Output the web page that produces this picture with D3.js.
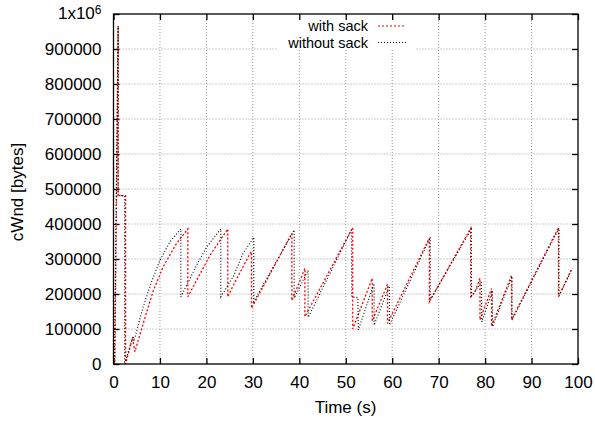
<!DOCTYPE html>
<html lang="en">
<head>
<meta charset="UTF-8">
<title>cWnd with and without SACK</title>
<script src="https://d3js.org/d3.v7.min.js"></script>
<style>
  html, body { margin: 0; padding: 0; background: #fff; }
  svg { display: block; font-family: 'Liberation Sans', Arial, sans-serif; }
  .tick text { font-size: 17px; fill: #000; }
</style>
</head>
<body>
<svg width="595" height="421"></svg>
<script>
  // [time (s), cwnd (bytes)]
  const withSack = [
    [0, 0], [0.3, 0], [1.0, 966000], [1.0, 481000], [2.6, 481000], [2.6, 0],
    [4.1, 74000], [4.6, 35000], [6.4, 116000], [8.6, 211000], [10.7, 278000], [13.6, 345000], [16.0, 386000],
    [16.0, 192000], [20.8, 311000], [24.6, 386000],
    [24.6, 192000], [25.8, 225000], [29.4, 316000], [29.7, 321000],
    [29.7, 159000], [33.0, 240000], [38.4, 373000],
    [38.4, 181000], [41.2, 273000],
    [41.2, 135000], [51.5, 390000],
    [51.5, 100000], [55.7, 245000],
    [55.7, 123000], [59.0, 228000],
    [59.0, 116000], [68.0, 360000],
    [68.0, 178000], [76.9, 388000],
    [76.9, 192000], [77.8, 205000], [78.9, 245000],
    [78.9, 126000], [81.4, 216000],
    [81.4, 107000], [85.7, 254000],
    [85.7, 126000], [95.8, 390000],
    [95.8, 192000], [98.7, 273000]
  ];

  const withoutSack = [
    [0, 0], [0.2, 0], [1.0, 966000], [1.0, 481000], [2.4, 481000], [2.4, 0],
    [4.2, 80000], [4.4, 65000], [6.4, 164000], [8.2, 235000], [10.0, 297000], [12.2, 350000], [14.5, 386000],
    [14.5, 192000], [18.0, 285000], [20.1, 335000], [23.1, 386000],
    [23.1, 192000], [25.8, 250000], [27.9, 316000], [30.2, 362000],
    [30.2, 178000], [38.9, 383000],
    [38.9, 188000], [41.9, 268000],
    [41.9, 133000], [51.2, 383000],
    [51.3, 192000], [52.6, 190000], [52.7, 97000], [56.1, 230000],
    [56.1, 111000], [59.4, 223000],
    [59.4, 111000], [68.2, 362000],
    [68.2, 183000], [77.0, 385000],
    [77.1, 195000], [78.0, 210000], [79.2, 235000],
    [79.3, 120000], [81.6, 211000],
    [81.6, 107000], [85.8, 250000],
    [85.8, 126000], [95.9, 388000],
    [95.9, 195000], [98.8, 273000]
  ];

  const xTicks = [0, 10, 20, 30, 40, 50, 60, 70, 80, 90, 100];
  const yTicks = [0, 100000, 200000, 300000, 400000, 500000, 600000, 700000, 800000, 900000, 1000000];
  const seriesNames = ["with sack", "without sack"];

  const svg = d3.select("svg");
  const margin = { top: 14, right: 17, bottom: 57, left: 113.5 };
  const width = 595 - margin.left - margin.right;
  const height = 421 - margin.top - margin.bottom;

  const g = svg.append("g").attr("transform", `translate(${margin.left},${margin.top})`);

  const x = d3.scaleLinear().domain([0, 100]).range([0, width]);
  const y = d3.scaleLinear().domain([0, 1000000]).range([height, 0]);

  // grid
  g.append("g").selectAll("line").data(yTicks.slice(1, -1)).join("line")
    .attr("x1", 0).attr("x2", width)
    .attr("y1", d => y(d)).attr("y2", d => y(d))
    .attr("stroke", "#999").attr("stroke-dasharray", "1,2");
  g.append("g").selectAll("line").data(xTicks.slice(1, -1)).join("line")
    .attr("y1", 0).attr("y2", height)
    .attr("x1", d => x(d)).attr("x2", d => x(d))
    .attr("stroke", "#999").attr("stroke-dasharray", "1,2");

  // legend box hides grid
  g.append("rect").attr("x", 277 - margin.left).attr("y", 17 - margin.top)
    .attr("width", 138).attr("height", 33).attr("fill", "#fff");

  // axes (ticks inside, mirrored)
  const fmtY = d => d === 1000000 ? "" : d3.format("d")(d);
  g.append("g").attr("transform", `translate(0,${height})`)
    .call(d3.axisBottom(x).tickValues(xTicks).tickSizeInner(-6).tickSizeOuter(0).tickPadding(12));
  const yAxis = g.append("g")
    .call(d3.axisLeft(y).tickValues(yTicks).tickFormat(fmtY).tickSizeInner(-6).tickSizeOuter(0).tickPadding(12));
  g.append("g").call(d3.axisTop(x).tickValues(xTicks).tickFormat("").tickSizeInner(-6).tickSizeOuter(0));
  g.append("g").attr("transform", `translate(${width},0)`)
    .call(d3.axisRight(y).tickValues(yTicks).tickFormat("").tickSizeInner(-6).tickSizeOuter(0));
  g.selectAll(".domain").remove();
  g.selectAll(".tick line").attr("stroke", "#000").attr("stroke-width", 1.3);

  // 1x10^6 label
  const topLabel = yAxis.append("text").attr("x", -12).attr("y", y(1000000)).attr("dy", "0.32em")
    .attr("text-anchor", "end").attr("fill", "#000").style("font-size", "17px");
  topLabel.append("tspan").text("1x10");
  topLabel.append("tspan").attr("dy", "-0.45em").style("font-size", "12px").text("6");

  // series
  const line = d3.line().x(d => x(d[0])).y(d => y(d[1]));
  g.append("path").datum(withSack).attr("d", line)
    .attr("fill", "none").attr("stroke", "#ff0000").attr("stroke-width", 1.3).attr("stroke-dasharray", "2,2");
  g.append("path").datum(withoutSack).attr("d", line)
    .attr("fill", "none").attr("stroke", "#000").attr("stroke-width", 1.1).attr("stroke-dasharray", "1,2");

  // frame
  g.append("rect").attr("width", width).attr("height", height)
    .attr("fill", "none").attr("stroke", "#000").attr("stroke-width", 1.3);

  // legend
  const legendColors = ["#ff0000", "#000"];
  const legendDash = ["2,2", "1,2"];
  seriesNames.forEach((name, i) => {
    const ly = 26 + i * 16.5 - margin.top;
    g.append("text").attr("x", 368 - margin.left).attr("y", ly).attr("dy", "0.35em")
      .attr("text-anchor", "end").style("font-size", "14.5px").text(name);
    g.append("line").attr("x1", 378 - margin.left).attr("x2", 406 - margin.left)
      .attr("y1", ly).attr("y2", ly)
      .attr("stroke", legendColors[i]).attr("stroke-width", 1.2).attr("stroke-dasharray", legendDash[i]);
  });

  // axis titles
  svg.append("text").attr("x", 345.5).attr("y", 407).attr("dy", "0.35em")
    .attr("text-anchor", "middle").style("font-size", "17px").text("Time (s)");
  svg.append("text").attr("transform", "translate(17,192) rotate(-90)").attr("dy", "0.35em")
    .attr("text-anchor", "middle").style("font-size", "17px").text("cWnd [bytes]");
</script>
</body>
</html>
